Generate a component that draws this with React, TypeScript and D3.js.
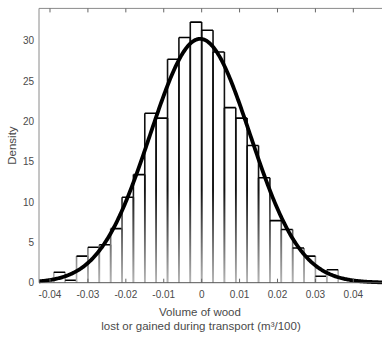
import React from "react";
import * as d3 from "d3";

// Histogram bins (left edges) and densities
const binStarts = [
  -0.039, -0.036, -0.033, -0.03, -0.027, -0.024, -0.021, -0.018, -0.015, -0.012,
  -0.009, -0.006, -0.003, 0.0, 0.003, 0.006, 0.009, 0.012, 0.015, 0.018,
  0.021, 0.024, 0.027, 0.03, 0.033,
];
const densities = [
  1.3, 0.3, 3.3, 4.4, 4.7, 6.7, 10.6, 13.4, 21.0, 20.4,
  27.7, 30.4, 32.3, 31.3, 28.6, 21.7, 20.4, 17.0, 13.0, 7.7,
  6.6, 4.3, 3.3, 0.8, 1.6,
];
const binWidth = 0.003;

// Fitted normal distribution parameters
const fitMean = -0.0004;
const fitSigma = 0.0132;

const xTicks = [-0.04, -0.03, -0.02, -0.01, 0, 0.01, 0.02, 0.03, 0.04];
const xTickLabels = ["-0.04", "-0.03", "-0.02", "-0.01", "0", "0.01", "0.02", "0.03", "0.04"];
const yTicks = [0, 5, 10, 15, 20, 25, 30];

const xLabel1 = "Volume of wood";
const xLabel2 = "lost or gained during transport (m³/100)";
const yLabel = "Density";

export default function App() {
  const W = 382;
  const H = 340;
  const left = 39;
  const right = 392;
  const top = 8.4;
  const bottom = 282.7;

  const x = d3.scaleLinear().domain([-0.0429, 0.0502]).range([left, right]);
  const y = d3.scaleLinear().domain([0, 34]).range([bottom, top]);

  const pdf = (v: number) =>
    Math.exp(-0.5 * ((v - fitMean) / fitSigma) ** 2) / (fitSigma * Math.sqrt(2 * Math.PI));
  const curvePts = d3.range(0, 401).map((i) => {
    const v = -0.0429 + (i / 400) * (0.0502 + 0.0429);
    return [v, pdf(v)] as [number, number];
  });
  const line = d3
    .line<[number, number]>()
    .x((d) => x(d[0]))
    .y((d) => y(d[1]))
    .curve(d3.curveLinear);

  const axisColor = "#8a8a8a";
  const textColor = "#4a4a4a";
  const font = "'Liberation Sans', Arial, sans-serif";

  return (
    <svg
      width={W}
      height={H}
      style={{ position: "absolute", left: 0, top: 0, background: "#fff" }}
    >
      <defs>
        <linearGradient id="edgeGrad" gradientUnits="userSpaceOnUse" x1="0" y1="190" x2="0" y2={bottom}>
          <stop offset="0" stopColor="#111" />
          <stop offset="1" stopColor="#b5b5b5" />
        </linearGradient>
        <clipPath id="plotClip">
          <rect x={left} y={top} width={right - left} height={bottom - top + 2} />
        </clipPath>
      </defs>

      {/* bars */}
      <g clipPath="url(#plotClip)">
        {binStarts.map((b, i) => {
          const x0 = x(b);
          const x1 = x(b + binWidth);
          const yt = y(densities[i]);
          return (
            <g key={i}>
              <line x1={x0} x2={x0} y1={yt} y2={bottom} stroke="url(#edgeGrad)" strokeWidth={1.6} />
              <line x1={x1} x2={x1} y1={yt} y2={bottom} stroke="url(#edgeGrad)" strokeWidth={1.6} />
              <line x1={x0} x2={x1} y1={yt} y2={yt} stroke="#000" strokeWidth={1.6} />
            </g>
          );
        })}
        <path
          d={line(curvePts) || ""}
          fill="none"
          stroke="#000"
          strokeWidth={3.8}
          strokeLinejoin="round"
        />
      </g>

      {/* axes box */}
      <line x1={left} x2={W} y1={top} y2={top} stroke={axisColor} strokeWidth={1} />
      <line x1={left} x2={left} y1={top} y2={bottom} stroke={axisColor} strokeWidth={1} />
      <line x1={left} x2={W} y1={bottom} y2={bottom} stroke="#555" strokeWidth={1} />

      {/* x ticks */}
      {xTicks.map((t, i) => (
        <g key={i}>
          <line x1={x(t)} x2={x(t)} y1={top} y2={top + 4} stroke="#666" strokeWidth={1} />
          <line x1={x(t)} x2={x(t)} y1={bottom} y2={bottom - 4} stroke="#666" strokeWidth={1} />
          <text
            x={x(t)}
            y={298}
            textAnchor="middle"
            fontFamily={font}
            fontSize={10}
            fill={textColor}
          >
            {xTickLabels[i]}
          </text>
        </g>
      ))}

      {/* y tick labels */}
      {yTicks.map((t) => (
        <text
          key={t}
          x={34}
          y={y(t) + 3.6}
          textAnchor="end"
          fontFamily={font}
          fontSize={10}
          fill={textColor}
        >
          {t}
        </text>
      ))}

      {/* axis labels */}
      <text x={200} y={316} textAnchor="middle" fontFamily={font} fontSize={11.5} fill={textColor}>
        {xLabel1}
      </text>
      <text x={201} y={330} textAnchor="middle" fontFamily={font} fontSize={11.5} fill={textColor}>
        {xLabel2}
      </text>
      <text
        transform={`translate(16, ${(top + bottom) / 2}) rotate(-90)`}
        textAnchor="middle"
        fontFamily={font}
        fontSize={11.5}
        fill={textColor}
      >
        {yLabel}
      </text>
    </svg>
  );
}
